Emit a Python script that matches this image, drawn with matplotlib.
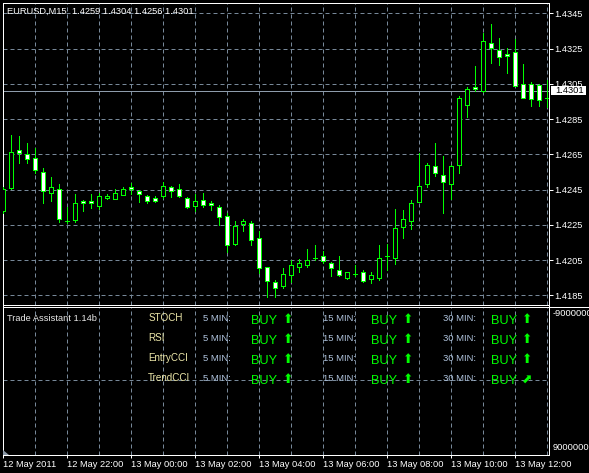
import matplotlib
matplotlib.use('Agg')
import matplotlib.pyplot as plt
from matplotlib.patches import Polygon, Rectangle

# ---------------- data ----------------
opens = [1.42330, 1.42460, 1.42674, 1.42652, 1.42627, 1.42548, 1.42429, 1.42451, 1.42272, 1.42277,
         1.42385, 1.42385, 1.42358, 1.42400, 1.42398, 1.42421, 1.42463, 1.42440, 1.42412, 1.42402,
         1.42412, 1.42463, 1.42451, 1.42400, 1.42358, 1.42389, 1.42372, 1.42349, 1.42298, 1.42139,
         1.42253, 1.42258, 1.42173, 1.42009, 1.41924, 1.41901, 1.41963, 1.42009, 1.42020, 1.42060,
         1.42071, 1.42032, 1.41992, 1.41950, 1.41969, 1.41980, 1.41941, 1.41950, 1.42071, 1.42060,
         1.42239, 1.42270, 1.42381, 1.42480, 1.42582, 1.42531, 1.42480, 1.42588, 1.42928, 1.43030,
         1.43009, 1.43280, 1.43242, 1.43219, 1.43229, 1.43047, 1.43049, 1.43043, 1.42967]
highs = [1.42466, 1.42759, 1.42754, 1.42712, 1.42684, 1.42571, 1.42523, 1.42481, 1.42349, 1.42425,
         1.42391, 1.42425, 1.42429, 1.42425, 1.42451, 1.42463, 1.42485, 1.42447, 1.42419, 1.42413,
         1.42491, 1.42470, 1.42481, 1.42409, 1.42425, 1.42430, 1.42383, 1.42362, 1.42315, 1.42270,
         1.42283, 1.42270, 1.42215, 1.42012, 1.41937, 1.42003, 1.42050, 1.42056, 1.42111, 1.42135,
         1.42103, 1.42041, 1.42073, 1.41982, 1.42022, 1.41992, 1.41980, 1.42135, 1.42143, 1.42340,
         1.42334, 1.42391, 1.42656, 1.42599, 1.42716, 1.42640, 1.42588, 1.42980, 1.43030, 1.43151,
         1.43337, 1.43389, 1.43308, 1.43251, 1.43302, 1.43161, 1.43060, 1.43049, 1.43072]
lows = [1.42317, 1.42451, 1.42599, 1.42599, 1.42542, 1.42372, 1.42387, 1.42268, 1.42258, 1.42268,
        1.42330, 1.42344, 1.42338, 1.42398, 1.42398, 1.42421, 1.42425, 1.42381, 1.42372, 1.42381,
        1.42400, 1.42409, 1.42409, 1.42347, 1.42330, 1.42349, 1.42336, 1.42249, 1.42097, 1.42135,
        1.42217, 1.42134, 1.41975, 1.41842, 1.41842, 1.41890, 1.41927, 1.41982, 1.42009, 1.42050,
        1.42032, 1.41959, 1.41959, 1.41941, 1.41959, 1.41927, 1.41921, 1.41937, 1.41993, 1.42029,
        1.42177, 1.42228, 1.42381, 1.42466, 1.42529, 1.42319, 1.42396, 1.42542, 1.42860, 1.43011,
        1.43005, 1.43166, 1.43157, 1.43110, 1.43037, 1.42967, 1.42923, 1.42923, 1.42917]
closes = [1.42451, 1.42661, 1.42659, 1.42622, 1.42559, 1.42440, 1.42463, 1.42281, 1.42272, 1.42372,
          1.42372, 1.42372, 1.42412, 1.42412, 1.42429, 1.42451, 1.42451, 1.42423, 1.42383, 1.42387,
          1.42468, 1.42440, 1.42412, 1.42349, 1.42383, 1.42361, 1.42361, 1.42293, 1.42134, 1.42241,
          1.42270, 1.42162, 1.42003, 1.41929, 1.41890, 1.41969, 1.42020, 1.42032, 1.42050, 1.42060,
          1.42043, 1.42003, 1.41963, 1.41980, 1.41969, 1.41931, 1.41963, 1.42062, 1.42071, 1.42230,
          1.42281, 1.42372, 1.42468, 1.42588, 1.42542, 1.42491, 1.42582, 1.42967, 1.43019, 1.43019,
          1.43291, 1.43251, 1.43200, 1.43206, 1.43039, 1.42967, 1.42961, 1.42959, 1.42967]

price_ticks = [1.4185, 1.4205, 1.4225, 1.4245, 1.4265, 1.4285, 1.4305, 1.4325, 1.4345]
price_tick_labels = ['1.4185', '1.4205', '1.4225', '1.4245', '1.4265', '1.4285', '1.4305', '1.4325', '1.4345']
current_price = 1.4301
current_price_label = '1.4301'
time_tick_bars = [0, 8, 16, 24, 32, 40, 48, 56, 64]
time_tick_labels = ['12 May 2011', '12 May 22:00', '13 May 00:00', '13 May 02:00', '13 May 04:00',
                    '13 May 06:00', '13 May 08:00', '13 May 10:00', '13 May 12:00']
title_text = 'EURUSD,M15  1.4259 1.4304 1.4256 1.4301'
sub_ticks = [-9000000, 9000000]
sub_tick_labels = ['-9000000', '9000000']
indicator_name = 'Trade Assistant 1.14b'
indicators = ['STOCH', 'RSI', 'EntryCCI', 'TrendCCI']
timeframes = ['5 MIN:', '15 MIN:', '30 MIN:']
signals = [['BUY', 'BUY', 'BUY'], ['BUY', 'BUY', 'BUY'], ['BUY', 'BUY', 'BUY'], ['BUY', 'BUY', 'BUY']]
arrows = [['⬆', '⬆', '⬆'], ['⬆', '⬆', '⬆'], ['⬆', '⬆', '⬆'], ['⬆', '⬆', '⬈']]

# ---------------- style ----------------
W, H, DPI = 589, 473, 100
PX = 72.0 / DPI
LIME = '#00ff00'
GRID = '#778899'
plt.rcParams['font.family'] = ['Liberation Sans', 'DejaVu Sans']
FS = 6.7

fig = plt.figure(figsize=(W / DPI, H / DPI), dpi=DPI, facecolor='black')


def rect(l, t, r, b):
    return [l / W, 1 - b / H, (r - l) / W, (b - t) / H]


ax = fig.add_axes(rect(2.5, 2.5, 548.5, 304.5), facecolor='black')
sub = fig.add_axes(rect(2.5, 306.5, 548.5, 455), facecolor='black')

x0, x1 = -0.0625, 68.1875
ax.set_xlim(x0, x1)
sub.set_xlim(x0, x1)
ax.set_ylim(1.417978, 1.435113)

dash = (0, (4, 3))

# candles
xs = list(range(len(opens)))
ax.vlines(xs, lows, highs, color=LIME, lw=PX, zorder=3, antialiased=False)
fills = ['black' if c > o else 'white' for o, c in zip(opens, closes)]
heights = [c - o for o, c in zip(opens, closes)]
ax.bar(xs, heights, bottom=opens, width=0.5, color=fills, edgecolor=LIME,
       linewidth=PX, zorder=4, antialiased=False)

ax.axhline(current_price, color='#8e9cab', lw=PX, zorder=2)

ax.set_xticks(list(range(0, 69, 4)))
ax.set_yticks(price_ticks)
ax.set_yticklabels(price_tick_labels)
ax.yaxis.tick_right()
ax.tick_params(axis='x', length=0, labelbottom=False)
ax.tick_params(axis='y', colors='white', length=4 * PX, width=PX, pad=2 * PX, labelsize=FS)
ax.grid(True, color=GRID, lw=PX, ls=dash, zorder=1)
ax.set_axisbelow(True)
for s in ax.spines.values():
    s.set_color('white')
    s.set_linewidth(PX)

# sub window
sub.set_ylim(10.075e6, -9.873e6)
sub.set_xticks(time_tick_bars)
sub.set_xticklabels(time_tick_labels, ha='left')
sub.set_xticks(list(range(4, 69, 8)), minor=True)
sub.tick_params(axis='x', which='major', colors='white', length=3 * PX, width=PX, pad=1.5, labelsize=FS)
sub.tick_params(axis='x', which='minor', length=0)
sub.set_yticks(sub_ticks)
sub.set_yticklabels(sub_tick_labels)
sub.set_yticks([0], minor=True)
sub.yaxis.tick_right()
sub.tick_params(axis='y', which='both', colors='white', length=0, pad=4 * PX, labelsize=FS)
sub.grid(True, axis='x', which='both', color=GRID, lw=PX, ls=dash)
sub.grid(True, axis='y', which='minor', color=GRID, lw=PX, ls=dash)
sub.set_axisbelow(True)
for s in sub.spines.values():
    s.set_color('white')
    s.set_linewidth(PX)

# overlay in pixel coordinates
ov = fig.add_axes([0, 0, 1, 1])
ov.set_xlim(0, W)
ov.set_ylim(H, 0)
ov.axis('off')

ov.text(7, 11.7, title_text, color='white', fontsize=FS, va='center', ha='left')
ov.plot([548.5, W], [306.5, 306.5], color='white', lw=PX)
ov.add_patch(Rectangle((551, 86), 35, 9.5, facecolor='white', edgecolor='none'))
ov.text(555, 90.8, current_price_label, color='black', fontsize=FS, va='center', ha='left')
ov.add_patch(Polygon([(3, 449.5), (3, 455), (8.5, 455)], closed=True, facecolor='#8a97a5', edgecolor='none'))

ov.text(7, 321, indicator_name, color='#e8e8e8', fontsize=FS, va='baseline', ha='left')
min_x = [203.3, 323.3, 443.3]
buy_x = [251.5, 371, 491]
arr_x = [288, 408, 527.5]
for i, name in enumerate(indicators):
    yb = 321 + 20 * i
    ov.text(148.3, yb, name, color='#eee8aa', fontsize=7.1, va='baseline', ha='left')
    for j, tf in enumerate(timeframes):
        ov.text(min_x[j], yb, tf, color='#b0c4de', fontsize=6.8, va='baseline', ha='left')
        ov.text(buy_x[j], yb + 3, signals[i][j], color=LIME, fontsize=9.2, va='baseline', ha='left')
        ov.text(arr_x[j], yb + 1.5, arrows[i][j], color=LIME, fontsize=9,
                va='baseline', ha='center', family=['DejaVu Sans'])

fig.savefig('out.png', dpi=DPI, facecolor='black')
